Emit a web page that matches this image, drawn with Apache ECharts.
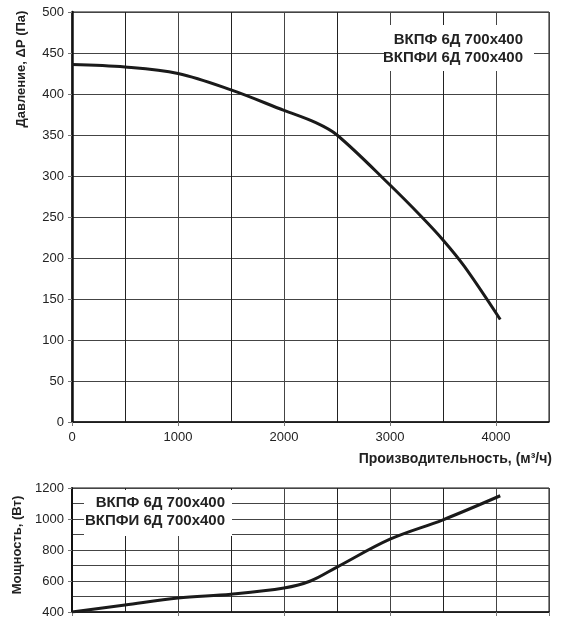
<!DOCTYPE html>
<html><head><meta charset="utf-8">
<script src="https://cdn.jsdelivr.net/npm/echarts@6/dist/echarts.min.js"></script>
<style>html,body{margin:0;padding:0;background:#fff}#c{width:561px;height:621px}</style>
</head><body><div id="c"></div>
<script>
const flowP = [0, 500, 1000, 1500, 2000, 2300, 2500, 3000, 3300, 3500, 3700, 4040];
const pressure = [436, 433, 425, 405, 380, 365, 350, 289, 250, 222, 190, 125];
const flowN = [0, 500, 1000, 1500, 2000, 2250, 2500, 3000, 3500, 4040];
const power = [400, 445, 490, 515, 555, 600, 690, 870, 995, 1150];
const modelLines = ['ВКПФ 6Д 700x400', 'ВКПФИ 6Д 700x400'];
const yTitleP = 'Давление, ΔP (Па)';
const yTitleN = 'Мощность, (Вт)';
const xTitle = 'Производительность, (м³/ч)';

const font = 'Liberation Sans, Arial, sans-serif';
const chart = echarts.init(document.getElementById('c'), null, {renderer: 'canvas'});
const gridLine = {show: true, lineStyle: {color: '#444', width: 1}};
const minorLine = {show: true, lineStyle: {color: '#222', width: 1}};
const plain = v => String(v);
chart.setOption({
  animation: false,
  textStyle: {fontFamily: font},
  grid: [
    {left: 72, top: 12, width: 477, height: 410, show: true, borderColor: '#111', borderWidth: 1, backgroundColor: 'transparent'},
    {left: 72, top: 488, width: 477, height: 124, show: true, borderColor: '#111', borderWidth: 1, backgroundColor: 'transparent'}
  ],
  xAxis: [
    {type: 'value', gridIndex: 0, min: 0, max: 4500, interval: 1000,
     axisLine: {show: true, onZero: false, lineStyle: {color: '#111', width: 1.5}},
     axisTick: {show: true, length: 4, lineStyle: {color: '#777'}},
     axisLabel: {color: '#222', fontSize: 13, margin: 9, showMaxLabel: false, formatter: plain},
     splitLine: gridLine, minorTick: {show: false, splitNumber: 2}, minorSplitLine: minorLine},
    {type: 'value', gridIndex: 1, min: 0, max: 4500, interval: 1000,
     axisLine: {show: true, onZero: false, lineStyle: {color: '#111', width: 1.5}},
     axisTick: {show: true, length: 4, lineStyle: {color: '#777'}},
     axisLabel: {show: false},
     splitLine: gridLine, minorTick: {show: false, splitNumber: 2}, minorSplitLine: minorLine}
  ],
  yAxis: [
    {type: 'value', gridIndex: 0, min: 0, max: 500, interval: 50,
     axisLine: {show: true, lineStyle: {color: '#111', width: 2.5}},
     axisTick: {show: true, length: 4, lineStyle: {color: '#777'}},
     axisLabel: {color: '#222', fontSize: 13, margin: 8, formatter: plain},
     splitLine: gridLine},
    {type: 'value', gridIndex: 1, min: 400, max: 1200, interval: 200,
     name: yTitleN, nameLocation: 'middle', nameRotate: 90, nameGap: 44,
     nameTextStyle: {fontWeight: 'bold', fontSize: 13, color: '#222', padding: [0, 0, 0, 10]},
     axisLine: {show: true, lineStyle: {color: '#111', width: 2}},
     axisTick: {show: true, length: 4, lineStyle: {color: '#777'}},
     axisLabel: {color: '#222', fontSize: 13, margin: 8, formatter: plain},
     splitLine: gridLine, minorTick: {show: false, splitNumber: 2},
     minorSplitLine: {show: true, lineStyle: {color: '#444', width: 1}}}
  ],
  series: [
    {type: 'line', xAxisIndex: 0, yAxisIndex: 0, smooth: 0.35, symbol: 'none',
     lineStyle: {color: '#1a1a1a', width: 3}, data: flowP.map((x, i) => [x, pressure[i]]), z: 5},
    {type: 'line', xAxisIndex: 1, yAxisIndex: 1, smooth: 0.35, symbol: 'none',
     lineStyle: {color: '#1a1a1a', width: 3}, data: flowN.map((x, i) => [x, power[i]]), z: 5}
  ],
  graphic: [
    {type: 'text', x: 21, y: 69, rotation: Math.PI / 2, z: 11,
     style: {text: yTitleP, font: 'bold 13px ' + font, fill: '#222', align: 'center', verticalAlign: 'middle'}},
    {type: 'rect', shape: {x: 386, y: 25, width: 148, height: 46}, style: {fill: '#fff'}, z: 10},
    {type: 'text', x: 523, y: 31, z: 11, style: {text: modelLines.join('\n'), font: 'bold 15px ' + font, fill: '#222', align: 'right', lineHeight: 18}},
    {type: 'rect', shape: {x: 84, y: 490, width: 148, height: 46}, style: {fill: '#fff'}, z: 10},
    {type: 'text', x: 225, y: 494, z: 11, style: {text: modelLines.join('\n'), font: 'bold 15px ' + font, fill: '#222', align: 'right', lineHeight: 18}},
    {type: 'text', x: 552, y: 452, z: 11, style: {text: xTitle, font: 'bold 14px ' + font, fill: '#222', align: 'right'}}
  ]
});
</script></body></html>
